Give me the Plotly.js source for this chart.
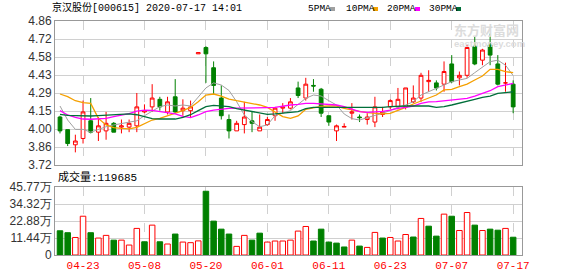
<!DOCTYPE html>
<html>
<head>
<meta charset="utf-8">
<script src="https://cdn.plot.ly/plotly-3.0.1.min.js"></script>
<style>
html,body{margin:0;padding:0;background:#fff;}
#chart{width:578px;height:276px;}
</style>
</head>
<body>
<div id="chart"></div>
<script>
// ---- data ----
const dates = ['04-20','04-21','04-22','04-23','04-24','04-27','04-28','04-29','04-30',
  '05-06','05-07','05-08','05-11','05-12','05-13','05-14','05-15','05-18','05-19','05-20','05-21','05-22','05-25','05-26','05-27','05-28','05-29',
  '06-01','06-02','06-03','06-04','06-05','06-08','06-09','06-10','06-11','06-12','06-15','06-16','06-17','06-18','06-19','06-22','06-23','06-24','06-29','06-30',
  '07-01','07-02','07-03','07-06','07-07','07-08','07-09','07-10','07-13','07-14','07-15','07-16','07-17'];
const openP = [4.10,4.00,3.88,3.93,4.07,3.98,3.99,4.05,4.02,4.02,4.03,4.14,4.18,4.24,4.14,4.26,4.15,4.15,4.60,4.65,
  4.49,4.25,4.08,3.99,4.04,4.07,3.99,4.04,4.11,4.17,4.17,4.33,4.25,4.35,4.32,4.11,3.99,4.02,4.13,4.10,
  4.08,4.06,4.12,4.18,4.18,4.18,4.22,4.25,4.38,4.37,4.36,4.52,4.41,4.43,4.66,4.55,4.67,4.52,4.37,4.36];
const highP = [4.11,4.00,3.96,4.23,4.25,4.10,4.14,4.06,4.08,4.08,4.29,4.20,4.36,4.26,4.26,4.40,4.24,4.23,4.61,4.66,
  4.54,4.35,4.12,4.07,4.22,4.14,4.12,4.10,4.18,4.21,4.25,4.38,4.41,4.40,4.33,4.11,4.04,4.05,4.21,4.12,
  4.13,4.26,4.18,4.24,4.33,4.33,4.35,4.45,4.47,4.39,4.54,4.59,4.46,4.67,4.74,4.64,4.76,4.59,4.53,4.39];
const lowP = [3.97,3.87,3.82,3.89,3.97,3.91,3.92,3.98,3.97,3.98,3.98,4.13,4.14,4.15,4.12,4.13,4.11,4.10,4.60,4.37,
  4.28,4.08,3.93,3.99,3.97,3.98,3.99,4.03,4.07,4.13,4.16,4.25,4.23,4.30,4.10,4.03,3.91,4.02,4.08,4.06,
  4.04,4.02,4.10,4.16,4.16,4.16,4.21,4.22,4.30,4.31,4.30,4.37,4.35,4.41,4.51,4.51,4.51,4.35,4.30,4.13];
const closeP = [3.99,3.89,3.91,4.14,3.98,4.03,4.05,3.98,4.03,4.05,4.18,4.15,4.25,4.18,4.22,4.14,4.17,4.18,4.61,4.60,
  4.35,4.11,3.99,4.05,4.10,4.05,4.02,4.08,4.17,4.18,4.22,4.27,4.36,4.345,4.13,4.06,4.03,4.025,4.14,4.095,
  4.10,4.18,4.14,4.23,4.24,4.33,4.25,4.43,4.39,4.33,4.46,4.38,4.43,4.65,4.52,4.63,4.59,4.36,4.37,4.18];
const ma5 = [4.187,4.076,4.002,4.002,3.980,4.002,4.023,4.037,4.050,4.060,4.070,4.110,4.145,4.182,4.195,4.187,4.195,4.187,4.258,4.330,
  4.370,4.353,4.310,4.221,4.116,4.063,4.023,4.037,4.111,4.129,4.150,4.200,4.248,4.274,4.266,4.229,4.195,4.124,4.087,4.076,
  4.097,4.113,4.129,4.155,4.176,4.195,4.221,4.274,4.300,4.327,4.353,4.380,4.393,4.406,4.451,4.498,4.538,4.550,4.510,4.428];
const ma10 = [4.282,4.261,4.229,4.213,4.208,4.089,4.037,4.016,4.010,4.006,4.018,4.045,4.076,4.089,4.108,4.129,4.150,4.176,4.221,4.274,
  4.282,4.266,4.242,4.229,4.219,4.211,4.195,4.176,4.142,4.103,4.089,4.108,4.161,4.174,4.184,4.187,4.187,4.169,4.155,4.145,
  4.134,4.129,4.124,4.129,4.150,4.176,4.203,4.227,4.248,4.274,4.314,4.319,4.340,4.361,4.393,4.424,4.477,4.477,4.459,4.451];
const ma20 = [4.150,4.116,4.097,4.084,4.082,4.084,4.089,4.103,4.113,4.126,4.147,4.155,4.153,4.142,4.134,4.124,4.105,4.095,4.116,4.142,
  4.155,4.163,4.169,4.171,4.171,4.169,4.169,4.174,4.176,4.187,4.195,4.200,4.208,4.208,4.205,4.200,4.195,4.182,4.161,4.142,
  4.137,4.140,4.145,4.155,4.169,4.176,4.187,4.208,4.219,4.221,4.227,4.235,4.240,4.248,4.266,4.287,4.308,4.340,4.353,4.366];
const ma30 = [4.121,4.113,4.111,4.108,4.108,4.111,4.113,4.118,4.121,4.124,4.118,4.103,4.087,4.084,4.084,4.084,4.097,4.118,4.150,4.182,
  4.192,4.187,4.182,4.166,4.155,4.145,4.129,4.121,4.124,4.129,4.134,4.142,4.166,4.176,4.176,4.176,4.176,4.176,4.176,4.176,
  4.176,4.176,4.176,4.182,4.187,4.187,4.187,4.187,4.187,4.176,4.182,4.195,4.208,4.221,4.240,4.256,4.266,4.287,4.293,4.300];
// volume in 万 (10k lots)
const volume = [16.3,15.0,11.8,26.1,15.0,11.4,13.2,10.0,10.0,6.7,17.9,8.9,20.1,8.9,7.4,14.1,8.7,8.3,9.5,42.9,
  22.8,17.4,14.1,5.8,13.2,10.0,14.7,8.7,9.4,9.4,10.0,16.1,19.2,9.4,17.4,8.7,8.0,5.4,10.0,6.0,
  5.1,15.2,11.4,11.8,9.4,13.8,12.1,24.6,19.4,12.7,27.5,26.1,16.5,28.6,20.1,16.5,17.4,16.7,17.9,11.97];
// 1 = up (red hollow), 0 = down (green)
const volUp = [0,0,1,1,0,1,1,0,1,1,1,0,1,0,1,0,1,1,1,0,
  0,0,0,1,1,0,0,1,1,1,1,1,1,0,0,0,0,0,1,0,
  1,1,0,1,1,1,0,1,0,0,1,0,1,1,0,1,0,0,1,0];
const tickDates = ['04-23','05-08','05-20','06-01','06-11','06-23','07-07','07-17'];
const priceTicks = [3.72,3.8625,4.005,4.1475,4.29,4.4325,4.575,4.7175,4.86];
const priceTickText = ['3.72','3.86','4.00','4.15','4.29','4.43','4.58','4.72','4.86'];
const volTicks = [0,11.4425,22.885,34.3275,45.77];
const volTickText = ['0','11.44万','22.88万','34.32万','45.77万'];
const titleText = '京汉股份[000615] 2020-07-17 14:01';
const volLabel = '成交量:119685';
const legendNames = ['5PMA','10PMA','20PMA','30PMA'];
const maColors = ['#a0a0a0','#f5a000','#ff00ff','#006f3a'];

// ---- layout helpers (pixel -> paper) ----
const W = 578, H = 276, ML = 55, MR = 56, MT = 21, MB = 21;
const PW = W - ML - MR, PH = H - MT - MB;
const px = x => (x - ML) / PW;
const py = y => (H - MB - y) / PH;

const RED = '#ff0000', GREEN = '#008000';

const traces = [];
traces.push({
  type: 'candlestick', x: dates, open: openP, high: highP, low: lowP, close: closeP,
  xaxis: 'x2', yaxis: 'y',
  increasing: {line: {color: RED, width: 1}, fillcolor: '#ffffff'},
  decreasing: {line: {color: GREEN, width: 1}, fillcolor: GREEN},
  whiskerwidth: 0, hoverinfo: 'skip', showlegend: false
});
[ma5, ma10, ma20, ma30].forEach((m, k) => {
  traces.push({
    type: 'scatter', mode: 'lines', x: dates, y: m, xaxis: 'x2', yaxis: 'y',
    line: {color: maColors[k], width: k === 0 ? 1 : 1.3}, hoverinfo: 'skip', showlegend: false
  });
});
traces.push({
  type: 'bar', x: dates, y: volume, xaxis: 'x', yaxis: 'y2', width: 0.72,
  marker: {
    color: volUp.map(u => u ? '#ffffff' : GREEN),
    line: {color: volUp.map(u => u ? RED : GREEN), width: 1}
  },
  hoverinfo: 'skip', showlegend: false
});

const xRange = [-0.65, 60.15];
const gridC = '#d0d0d0', borderC = '#999999';
const common = {
  type: 'category', categoryorder: 'array', categoryarray: dates, range: xRange,
  tickvals: tickDates, showgrid: true, gridcolor: gridC, griddash: 'dash', gridwidth: 1,
  showline: true, mirror: true, linecolor: borderC, linewidth: 1, ticks: '',
  rangeslider: {visible: false}, fixedrange: true, zeroline: false
};

const annotations = [
  {text: titleText, x: px(50), y: py(8), xref: 'paper', yref: 'paper', xanchor: 'left', yanchor: 'middle',
   showarrow: false, font: {family: 'Liberation Mono, Noto Sans CJK SC, monospace', size: 10, color: '#000'}},
  {text: volLabel, x: px(56), y: py(177), xref: 'paper', yref: 'paper', xanchor: 'left', yanchor: 'middle',
   showarrow: false, font: {family: 'Liberation Mono, Noto Sans CJK SC, monospace', size: 11, color: '#000'}},
  {text: '东方财富网', x: px(452), y: py(30), xref: 'paper', yref: 'paper', xanchor: 'left', yanchor: 'middle',
   showarrow: false, font: {family: 'Noto Sans CJK SC', size: 13, color: '#dcdcdc', weight: 700}},
  {text: '<b>eastmoney.com</b>', x: px(452), y: py(43), xref: 'paper', yref: 'paper', xanchor: 'left', yanchor: 'middle',
   showarrow: false, font: {family: 'Liberation Sans', size: 9.5, color: '#dcdcdc'}}
];
const legX = [306, 344, 385, 427];
const sqX = [330, 373, 415, 456];
const shapes = [];
legendNames.forEach((n, k) => {
  annotations.push({text: n, x: px(legX[k]), y: py(9), xref: 'paper', yref: 'paper', xanchor: 'left', yanchor: 'middle',
    showarrow: false, font: {family: 'Liberation Mono, monospace', size: 9.5, color: '#000'}});
  shapes.push({type: 'rect', xref: 'paper', yref: 'paper', x0: px(sqX[k]), x1: px(sqX[k] + 5),
    y0: py(11), y1: py(7), fillcolor: maColors[k], line: {width: 0}});
});

const layout = {
  width: W, height: H, margin: {l: ML, r: MR, t: MT, b: MB, pad: 0},
  paper_bgcolor: '#fff', plot_bgcolor: '#fff', showlegend: false, dragmode: false,
  xaxis: Object.assign({}, common, {anchor: 'y2', showticklabels: true,
    tickfont: {family: 'Liberation Mono, monospace', size: 11, color: RED}}),
  xaxis2: Object.assign({}, common, {anchor: 'y', showticklabels: false}),
  yaxis: {domain: [(H - MB - 165) / PH, 1], range: [3.72, 4.86], tickvals: priceTicks, ticktext: priceTickText,
    showgrid: true, gridcolor: gridC, showline: true, mirror: true, linecolor: borderC, ticks: '',
    zeroline: false, fixedrange: true, tickfont: {family: 'Liberation Sans, Arial', size: 12, color: '#333'}},
  yaxis2: {domain: [0, (255 - 187) / PH], range: [0, 45.77], tickvals: volTicks, ticktext: volTickText,
    showgrid: true, gridcolor: gridC, showline: true, mirror: true, linecolor: borderC, ticks: '',
    zeroline: false, fixedrange: true, tickfont: {family: 'Liberation Sans, Arial', size: 12, color: '#333'}},
  annotations: annotations, shapes: shapes, bargap: 0.28
};

Plotly.newPlot('chart', traces, layout, {staticPlot: true, displayModeBar: false});
</script>
</body>
</html>
